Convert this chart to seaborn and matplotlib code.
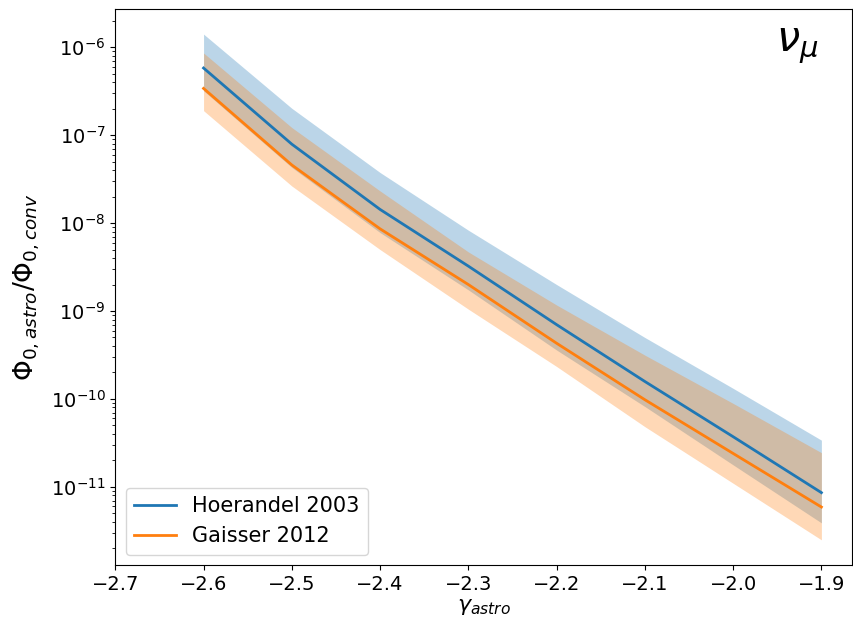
#!/usr/bin/env python3
"""Astro / conventional flux normalisation ratio vs spectral index (nu_mu)."""

import numpy as np
import pandas as pd
import matplotlib
matplotlib.use("Agg")
import matplotlib.pyplot as plt
import seaborn as sns

# --- data ---
gamma = [-2.6, -2.5, -2.4, -2.3, -2.2, -2.1, -2.0, -1.9]

hoer_mid = [5.8e-7, 7.9e-8, 1.43e-8, 3.24e-9, 7.0e-10, 1.58e-10, 3.72e-11, 8.6e-12]
hoer_up = [1.41e-6, 2.02e-7, 3.76e-8, 8.3e-9, 2.0e-9, 5.0e-10, 1.32e-10, 3.4e-11]
hoer_lo = [3.2e-7, 4.3e-8, 7.8e-9, 1.74e-9, 3.6e-10, 8.2e-11, 1.78e-11, 3.9e-12]

gais_mid = [3.4e-7, 4.58e-8, 8.6e-9, 2.0e-9, 4.3e-10, 9.8e-11, 2.4e-11, 5.9e-12]
gais_up = [8.6e-7, 1.22e-7, 2.32e-8, 4.7e-9, 1.17e-9, 3.15e-10, 8.9e-11, 2.45e-11]
gais_lo = [1.9e-7, 2.64e-8, 5.0e-9, 1.05e-9, 2.34e-10, 4.84e-11, 1.1e-11, 2.5e-12]

models = ["Hoerandel 2003", "Gaisser 2012"]
colors = ["#1f77b4", "#ff7f0e"]


def main():
    df = pd.concat([
        pd.DataFrame({"gamma": gamma, "ratio": hoer_mid, "model": models[0]}),
        pd.DataFrame({"gamma": gamma, "ratio": gais_mid, "model": models[1]}),
    ])

    fig = plt.figure(figsize=(8.54, 6.30), dpi=100)
    ax = fig.add_axes([0.135, 0.103, 0.863, 0.883])

    ax.fill_between(gamma, hoer_lo, hoer_up, color=colors[0], alpha=0.3, lw=0)
    ax.fill_between(gamma, gais_lo, gais_up, color=colors[1], alpha=0.3, lw=0)
    sns.lineplot(data=df, x="gamma", y="ratio", hue="model", hue_order=models,
                 palette=colors, linewidth=2, ax=ax)

    ax.set_yscale("log")
    ax.set_xlim(left=-2.7)
    ax.set_xticks(np.round(np.arange(-2.7, -1.85, 0.1), 1))
    ax.tick_params(labelsize=14)
    ax.set_xlabel(r"$\gamma_{astro}$", fontsize=16, labelpad=2)
    ax.set_ylabel(r"$\Phi_{0,astro}/\Phi_{0,conv}$", fontsize=19, labelpad=6)
    ax.legend(loc="lower left", fontsize=15)
    ax.text(0.925, 0.935, r"$\nu_\mu$", transform=ax.transAxes,
            fontsize=30, ha="center", va="center")

    fig.savefig("out.png", dpi=100)
    plt.close(fig)


if __name__ == "__main__":
    main()
